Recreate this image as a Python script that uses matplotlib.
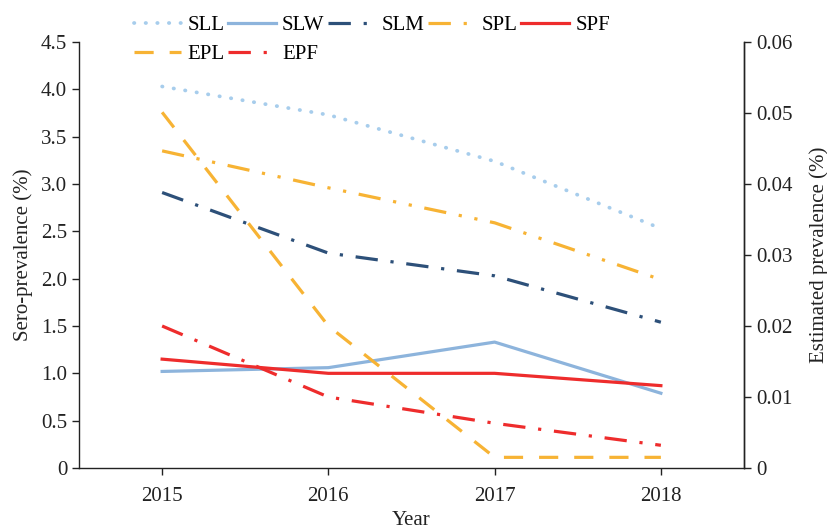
import matplotlib
matplotlib.use("Agg")
import matplotlib.pyplot as plt

years = ["2015", "2016", "2017", "2018"]
sll = [4.03, 3.73, 3.24, 2.53]
slw = [1.02, 1.06, 1.33, 0.79]
slm = [2.91, 2.27, 2.03, 1.54]
spl = [3.35, 2.96, 2.59, 1.99]
spf = [1.15, 1.00, 1.00, 0.87]
epl = [0.0501, 0.0200, 0.0015, 0.0015]
epf = [0.0200, 0.0100, 0.0063, 0.0032]

plt.rcParams['font.family'] = ['Liberation Serif', 'DejaVu Serif']
FS = 15

fig = plt.figure(figsize=(8.28, 5.30), dpi=100)
ax = fig.add_axes([79/828, (530-468)/530, (744-79)/828, (468-42)/530])
ax2 = ax.twinx()

x = list(range(len(years)))
lw = 2.3
c_lb = "#a7cdec"
c_blue = "#8db4dc"
c_dark = "#2d5079"
c_orange = "#f7b334"
c_red = "#ee2c2c"

h1, = ax.plot(x, sll, color=c_lb, lw=2.7, linestyle=(0, (0.1, 3.0)), dash_capstyle='round', label="SLL")
h2, = ax.plot(x, slw, color=c_blue, lw=lw, label="SLW")
h3, = ax.plot(x, slm, color=c_dark, lw=lw, linestyle=(0, (7, 4, 1, 4)), label="SLM")
h4, = ax.plot(x, spl, color=c_orange, lw=lw, linestyle=(0, (7, 4, 1, 4, 1, 4)), label="SPL")
h5, = ax.plot(x, spf, color=c_red, lw=lw, label="SPF")
h6, = ax2.plot(x, epl, color=c_orange, lw=lw, linestyle=(0, (6, 5)), label="EPL")
h7, = ax2.plot(x, epf, color=c_red, lw=lw, linestyle=(0, (7, 4, 1, 4)), label="EPF")

ax.set_xlim(-0.5, 3.5)
ax.set_ylim(0, 4.5)
ax2.set_ylim(0, 0.06)
ax.set_xticks(x)
ax.set_xticklabels(years, fontsize=FS)
yt = [0, 0.5, 1.0, 1.5, 2.0, 2.5, 3.0, 3.5, 4.0, 4.5]
ax.set_yticks(yt)
ax.set_yticklabels(["0"] + [f"{v:.1f}" for v in yt[1:]], fontsize=FS)
yt2 = [0, 0.01, 0.02, 0.03, 0.04, 0.05, 0.06]
ax2.set_yticks(yt2)
ax2.set_yticklabels(["0"] + [f"{v:.2f}" for v in yt2[1:]], fontsize=FS)

for a in (ax, ax2):
    a.spines['top'].set_visible(False)
    for s in a.spines.values():
        s.set_color("#222222")
        s.set_linewidth(1.0)
    a.tick_params(direction='out', length=5, width=1.0, colors="#222222", labelcolor="#222222")
ax.tick_params(axis='x', pad=9)
ax2.spines['left'].set_visible(False)
ax2.spines['bottom'].set_visible(False)

ax.set_ylabel("Sero-prevalence (%)", fontsize=FS, color="#222222", labelpad=6)
ax2.set_ylabel("Estimated prevalence (%)", fontsize=FS, color="#222222", labelpad=12)
ax.set_xlabel("Year", fontsize=FS, color="#222222", labelpad=3)

# column-major order so rows read: SLL SLW SLM SPL SPF / EPL EPF
handles = [h1, h6, h2, h7, h3, h4, h5]
fig.legend(handles=handles, loc='upper left', bbox_to_anchor=(121/828, 0.994), ncol=5,
           frameon=False, fontsize=FS, handlelength=2.3, handletextpad=0.3,
           columnspacing=0.15, labelspacing=0.45, borderaxespad=0.2)

fig.savefig("out.png", dpi=100)
